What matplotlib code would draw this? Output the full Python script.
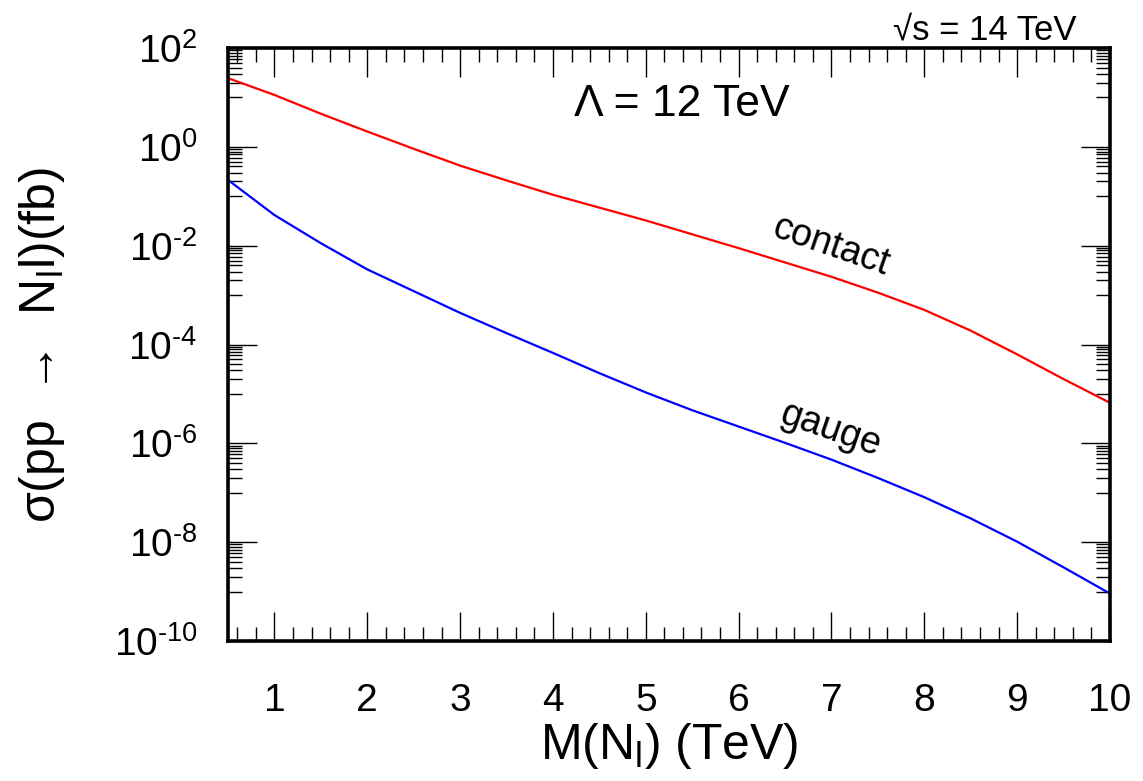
import numpy as np
import matplotlib
matplotlib.use("Agg")
import matplotlib.pyplot as plt

plt.rcParams['font.family'] = ['Liberation Sans', 'DejaVu Sans']
plt.rcParams['mathtext.fontset'] = 'custom'
plt.rcParams['mathtext.rm'] = 'Liberation Sans'
plt.rcParams['mathtext.it'] = 'Liberation Sans:italic'
plt.rcParams['mathtext.bf'] = 'Liberation Sans:bold'

# Data: mass in TeV, log10 of cross-section in fb
mass = [0.5, 1.0, 1.5, 2.0, 2.5, 3.0, 3.5, 4.0, 4.5, 5.0, 5.5, 6.0, 6.5,
        7.0, 7.5, 8.0, 8.5, 9.0, 9.5, 10.0]
log_contact = [1.39, 1.05, 0.67, 0.31, -0.04, -0.38, -0.68, -0.97, -1.23,
               -1.49, -1.77, -2.05, -2.34, -2.63, -2.95, -3.30, -3.72,
               -4.20, -4.70, -5.18]
log_gauge = [-0.67, -1.38, -1.95, -2.48, -2.92, -3.36, -3.77, -4.17, -4.58,
             -4.97, -5.33, -5.66, -5.99, -6.33, -6.70, -7.09, -7.52, -7.99,
             -8.51, -9.04]

xticks = [1, 2, 3, 4, 5, 6, 7, 8, 9, 10]
ydecades = [2, 0, -2, -4, -6, -8, -10]

sigma_contact = 10.0 ** np.array(log_contact)
sigma_gauge = 10.0 ** np.array(log_gauge)

fig = plt.figure(figsize=(11.43, 7.81), dpi=100)
ax = fig.add_axes([228/1143, 1 - 641/781, (1110-228)/1143, (641-48)/781])

ax.plot(mass, sigma_contact, color='#ff0000', lw=1.6)
ax.plot(mass, sigma_gauge, color='#0000ff', lw=1.6)

ax.set_yscale('log')
ax.set_xlim(0.5, 10)
ax.set_ylim(1e-10, 1e2)

# x ticks
ax.set_xticks(xticks)
ax.set_xticklabels([str(t) for t in xticks])
ax.set_xticks(np.arange(0.6, 10.0, 0.2), minor=True)

# y ticks
ax.set_yticks([10.0 ** d for d in ydecades])
ax.set_yticklabels([r'$10^{\text{%d}}$' % d for d in ydecades])
minors = []
for d in ydecades:
    for m in [0.9, 0.8, 0.7, 0.6, 0.5, 0.4, 0.3, 0.2, 0.1]:
        v = m * 10.0 ** d
        if 1e-10 < v < 1e2:
            minors.append(v)
ax.set_yticks(minors, minor=True)
ax.yaxis.set_minor_formatter(matplotlib.ticker.NullFormatter())

ax.tick_params(which='both', direction='in', top=True, right=True, width=1.0, colors='black')
ax.tick_params(which='major', length=21)
ax.tick_params(which='minor', length=10)
ax.tick_params(axis='x', which='major', labelsize=28, pad=30)
ax.tick_params(axis='y', which='major', labelsize=28, pad=22)

for s in ax.spines.values():
    s.set_linewidth(2.6)

ax.set_xlabel(r'M(N$_{\mathrm{l}}$) (TeV)', fontsize=36)
ax.xaxis.set_label_coords(0.5, -0.135)
ax.set_ylabel('σ(pp  →  N$_{\\mathrm{l}}$l)(fb)', fontsize=36, va='center')
ax.yaxis.set_label_coords(-0.211, 0.5)

ax.text(0.515, 0.905, 'Λ = 12 TeV', transform=ax.transAxes, fontsize=32,
        ha='center', va='center')
ax.text(0.962, 1.003, '√s = 14 TeV', transform=ax.transAxes, fontsize=25,
        ha='right', va='bottom')
ax.text(0.684, 0.666, 'contact', transform=ax.transAxes, fontsize=27,
        ha='center', va='center', rotation=-19)
ax.text(0.683, 0.356, 'gauge', transform=ax.transAxes, fontsize=27,
        ha='center', va='center', rotation=-19)

fig.savefig('out.png', dpi=100)
